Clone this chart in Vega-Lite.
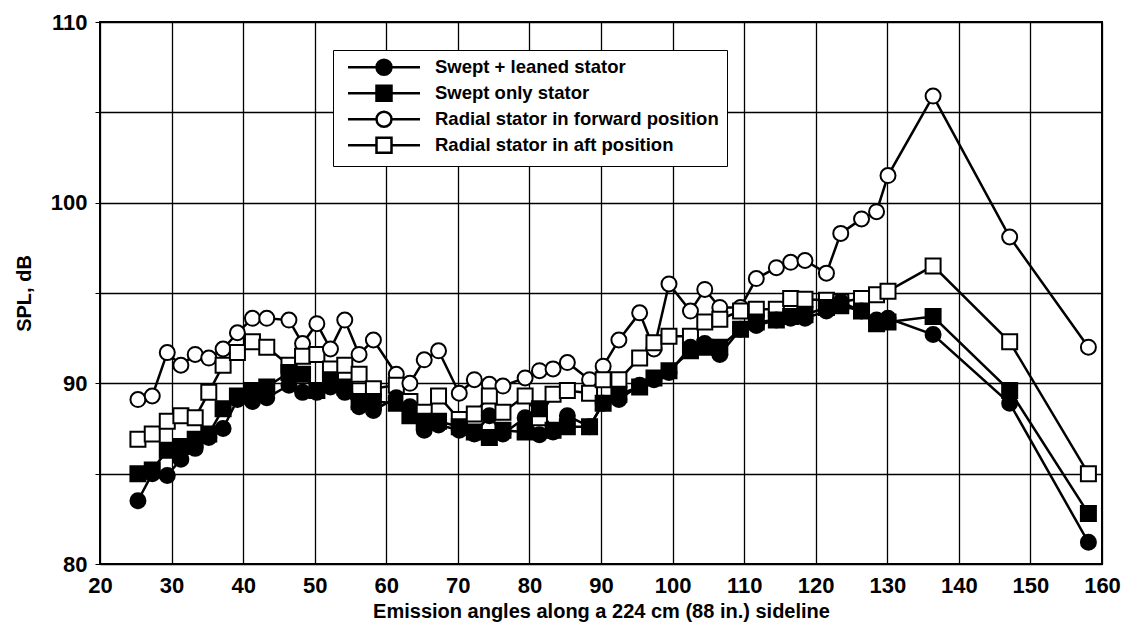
{
  "$schema": "https://vega.github.io/schema/vega-lite/v6.json",
  "width": 1002,
  "height": 542,
  "autosize": {"type": "none"},
  "padding": {"left": 100, "top": 22, "right": 30, "bottom": 66},
  "background": "white",
  "config": {
    "font": "Liberation Sans",
    "view": {"stroke": "black", "strokeWidth": 2},
    "axis": {
      "gridColor": "black", "gridOpacity": 1, "gridWidth": 1.3,
      "labelColor": "black", "labelFont": "Liberation Sans", "labelFontSize": 22, "labelFontWeight": "bold",
      "labelFlush": false, "labelOverlap": false,
      "titleColor": "black", "titleFont": "Liberation Sans", "titleFontSize": 20, "titleFontWeight": "bold",
      "domain": false, "tickColor": "black"
    }
  },
  "data": {"values": [
    {"angle": 25.3, "Swept + leaned stator": 83.5, "Swept only stator": 85.0, "Radial stator in forward position": 89.1, "Radial stator in aft position": 86.9},
    {"angle": 27.3, "Swept + leaned stator": 85.0, "Swept only stator": 85.2, "Radial stator in forward position": 89.3, "Radial stator in aft position": 87.2},
    {"angle": 29.4, "Swept + leaned stator": 84.9, "Swept only stator": 86.3, "Radial stator in forward position": 91.7, "Radial stator in aft position": 87.9},
    {"angle": 31.3, "Swept + leaned stator": 85.8, "Swept only stator": 86.5, "Radial stator in forward position": 91.0, "Radial stator in aft position": 88.2},
    {"angle": 33.3, "Swept + leaned stator": 86.4, "Swept only stator": 86.9, "Radial stator in forward position": 91.6, "Radial stator in aft position": 88.1},
    {"angle": 35.2, "Swept + leaned stator": 87.0, "Swept only stator": 87.2, "Radial stator in forward position": 91.4, "Radial stator in aft position": 89.5},
    {"angle": 37.2, "Swept + leaned stator": 87.5, "Swept only stator": 88.6, "Radial stator in forward position": 91.9, "Radial stator in aft position": 91.0},
    {"angle": 39.2, "Swept + leaned stator": 89.1, "Swept only stator": 89.3, "Radial stator in forward position": 92.8, "Radial stator in aft position": 91.7},
    {"angle": 41.3, "Swept + leaned stator": 89.0, "Swept only stator": 89.6, "Radial stator in forward position": 93.6, "Radial stator in aft position": 92.3},
    {"angle": 43.3, "Swept + leaned stator": 89.2, "Swept only stator": 89.8, "Radial stator in forward position": 93.6, "Radial stator in aft position": 92.0},
    {"angle": 46.4, "Swept + leaned stator": 89.9, "Swept only stator": 90.6, "Radial stator in forward position": 93.5, "Radial stator in aft position": 91.0},
    {"angle": 48.3, "Swept + leaned stator": 89.5, "Swept only stator": 90.5, "Radial stator in forward position": 92.2, "Radial stator in aft position": 91.5},
    {"angle": 50.3, "Swept + leaned stator": 89.5, "Swept only stator": 89.6, "Radial stator in forward position": 93.3, "Radial stator in aft position": 91.6},
    {"angle": 52.2, "Swept + leaned stator": 89.8, "Swept only stator": 90.2, "Radial stator in forward position": 91.9, "Radial stator in aft position": 90.8},
    {"angle": 54.2, "Swept + leaned stator": 89.5, "Swept only stator": 89.8, "Radial stator in forward position": 93.5, "Radial stator in aft position": 91.0},
    {"angle": 56.2, "Swept + leaned stator": 88.7, "Swept only stator": 89.0, "Radial stator in forward position": 91.6, "Radial stator in aft position": 90.5},
    {"angle": 58.2, "Swept + leaned stator": 88.5, "Swept only stator": 89.0, "Radial stator in forward position": 92.4, "Radial stator in aft position": 89.7},
    {"angle": 61.4, "Swept + leaned stator": 89.2, "Swept only stator": 88.9, "Radial stator in forward position": 90.5, "Radial stator in aft position": 89.9},
    {"angle": 63.3, "Swept + leaned stator": 88.7, "Swept only stator": 88.2, "Radial stator in forward position": 90.0, "Radial stator in aft position": 89.0},
    {"angle": 65.3, "Swept + leaned stator": 87.4, "Swept only stator": 87.9, "Radial stator in forward position": 91.3, "Radial stator in aft position": 88.4},
    {"angle": 67.3, "Swept + leaned stator": 87.7, "Swept only stator": 87.9, "Radial stator in forward position": 91.8, "Radial stator in aft position": 89.3},
    {"angle": 70.2, "Swept + leaned stator": 87.4, "Swept only stator": 87.6, "Radial stator in forward position": 89.45, "Radial stator in aft position": 88.0},
    {"angle": 72.3, "Swept + leaned stator": 87.2, "Swept only stator": 87.3, "Radial stator in forward position": 90.2, "Radial stator in aft position": 88.3},
    {"angle": 74.4, "Swept + leaned stator": 88.2, "Swept only stator": 87.0, "Radial stator in forward position": 89.95, "Radial stator in aft position": 89.3},
    {"angle": 76.3, "Swept + leaned stator": 87.2, "Swept only stator": 87.4, "Radial stator in forward position": 89.85, "Radial stator in aft position": 88.4},
    {"angle": 79.4, "Swept + leaned stator": 88.1, "Swept only stator": 87.3, "Radial stator in forward position": 90.3, "Radial stator in aft position": 89.3},
    {"angle": 81.4, "Swept + leaned stator": 87.15, "Swept only stator": 88.6, "Radial stator in forward position": 90.7, "Radial stator in aft position": 88.1},
    {"angle": 83.3, "Swept + leaned stator": 87.3, "Swept only stator": 87.4, "Radial stator in forward position": 90.8, "Radial stator in aft position": 89.4},
    {"angle": 85.3, "Swept + leaned stator": 88.2, "Swept only stator": 87.6, "Radial stator in forward position": 91.15, "Radial stator in aft position": 89.6},
    {"angle": 88.4, "Swept + leaned stator": 87.6, "Swept only stator": 87.6, "Radial stator in forward position": 90.2, "Radial stator in aft position": 89.45},
    {"angle": 90.3, "Swept + leaned stator": 88.9, "Swept only stator": 88.9, "Radial stator in forward position": 90.95, "Radial stator in aft position": 90.2},
    {"angle": 92.5, "Swept + leaned stator": 89.1, "Swept only stator": 89.4, "Radial stator in forward position": 92.4, "Radial stator in aft position": 90.2},
    {"angle": 95.4, "Swept + leaned stator": 89.9, "Swept only stator": 89.8, "Radial stator in forward position": 93.9, "Radial stator in aft position": 91.4},
    {"angle": 97.4, "Swept + leaned stator": 90.2, "Swept only stator": 90.3, "Radial stator in forward position": 91.9, "Radial stator in aft position": 92.25},
    {"angle": 99.5, "Swept + leaned stator": 90.6, "Swept only stator": 90.7, "Radial stator in forward position": 95.5, "Radial stator in aft position": 92.6},
    {"angle": 102.5, "Swept + leaned stator": 92.0, "Swept only stator": 91.8, "Radial stator in forward position": 94.0, "Radial stator in aft position": 92.6},
    {"angle": 104.5, "Swept + leaned stator": 92.2, "Swept only stator": 92.0, "Radial stator in forward position": 95.2, "Radial stator in aft position": 93.4},
    {"angle": 106.6, "Swept + leaned stator": 91.6, "Swept only stator": 92.0, "Radial stator in forward position": 94.2, "Radial stator in aft position": 93.55},
    {"angle": 109.5, "Swept + leaned stator": 93.0, "Swept only stator": 93.0, "Radial stator in forward position": 94.2, "Radial stator in aft position": 94.0},
    {"angle": 111.7, "Swept + leaned stator": 93.2, "Swept only stator": 93.4, "Radial stator in forward position": 95.8, "Radial stator in aft position": 94.1},
    {"angle": 114.5, "Swept + leaned stator": 93.5, "Swept only stator": 93.5, "Radial stator in forward position": 96.4, "Radial stator in aft position": 94.1},
    {"angle": 116.5, "Swept + leaned stator": 93.6, "Swept only stator": 93.7, "Radial stator in forward position": 96.7, "Radial stator in aft position": 94.7},
    {"angle": 118.5, "Swept + leaned stator": 93.6, "Swept only stator": 93.8, "Radial stator in forward position": 96.8, "Radial stator in aft position": 94.65},
    {"angle": 121.5, "Swept + leaned stator": 94.0, "Swept only stator": 94.2, "Radial stator in forward position": 96.1, "Radial stator in aft position": 94.6},
    {"angle": 123.5, "Swept + leaned stator": 94.5, "Swept only stator": 94.3, "Radial stator in forward position": 98.3, "Radial stator in aft position": 94.5},
    {"angle": 126.4, "Swept + leaned stator": 94.0, "Swept only stator": 94.0, "Radial stator in forward position": 99.1, "Radial stator in aft position": 94.7},
    {"angle": 128.5, "Swept + leaned stator": 93.5, "Swept only stator": 93.3, "Radial stator in forward position": 99.5, "Radial stator in aft position": 94.9},
    {"angle": 130.1, "Swept + leaned stator": 93.6, "Swept only stator": 93.4, "Radial stator in forward position": 101.5, "Radial stator in aft position": 95.1},
    {"angle": 136.4, "Swept + leaned stator": 92.7, "Swept only stator": 93.7, "Radial stator in forward position": 105.9, "Radial stator in aft position": 96.5},
    {"angle": 147.1, "Swept + leaned stator": 88.9, "Swept only stator": 89.6, "Radial stator in forward position": 98.1, "Radial stator in aft position": 92.3},
    {"angle": 158.1, "Swept + leaned stator": 81.2, "Swept only stator": 82.8, "Radial stator in forward position": 92.0, "Radial stator in aft position": 85.0}
  ]},
  "transform": [
    {"fold": ["Radial stator in forward position", "Radial stator in aft position", "Swept only stator", "Swept + leaned stator"], "as": ["series", "spl"]}
  ],
  "encoding": {
    "x": {
      "field": "angle", "type": "quantitative",
      "scale": {"domain": [20, 160], "nice": false, "zero": false},
      "axis": {
        "values": [20, 30, 40, 50, 60, 70, 80, 90, 100, 110, 120, 130, 140, 150, 160],
        "ticks": false, "labelPadding": 11,
        "title": "Emission angles along a 224 cm (88 in.) sideline", "titlePadding": 5
      }
    },
    "y": {
      "field": "spl", "type": "quantitative",
      "scale": {"domain": [80, 110], "nice": false, "zero": false},
      "axis": {
        "values": [80, 85, 90, 95, 100, 105, 110],
        "labelExpr": "datum.value % 10 === 0 ? datum.label : ''",
        "tickSize": 5, "labelPadding": 8,
        "title": "SPL, dB", "titlePadding": 16
      }
    }
  },
  "layer": [
    {
      "mark": {"type": "line", "strokeWidth": 2.5},
      "encoding": {
        "detail": {"field": "series", "type": "nominal"},
        "color": {"value": "black"}
      }
    },
    {
      "mark": {"type": "point", "size": 225, "stroke": "black", "strokeWidth": 2, "opacity": 1},
      "encoding": {
        "shape": {
          "field": "series", "type": "nominal",
          "scale": {
            "domain": ["Swept + leaned stator", "Swept only stator", "Radial stator in forward position", "Radial stator in aft position"],
            "range": ["circle", "square", "circle", "square"]
          },
          "legend": null
        },
        "fill": {
          "field": "series", "type": "nominal",
          "scale": {
            "domain": ["Swept + leaned stator", "Swept only stator", "Radial stator in forward position", "Radial stator in aft position"],
            "range": ["black", "black", "white", "white"]
          },
          "legend": null
        }
      }
    },
    {
      "transform": [{"filter": "false"}],
      "mark": {"type": "point", "size": 225, "stroke": "black", "strokeWidth": 2.5, "opacity": 1},
      "encoding": {
        "stroke": {"value": "black"},
        "shape": {
          "field": "series", "type": "nominal",
          "scale": {
            "domain": ["Swept + leaned stator", "Swept only stator", "Radial stator in forward position", "Radial stator in aft position"],
            "range": [
              "M-4.8,0H-1M1,0H4.8M1,0C1,0.552,0.552,1,0,1C-0.552,1,-1,0.552,-1,0C-1,-0.552,-0.552,-1,0,-1C0.552,-1,1,-0.552,1,0Z",
              "M-4.8,0H-1M1,0H4.8M-1,-1H1V1H-1Z",
              "M-4.8,0H-1M1,0H4.8M1,0C1,0.552,0.552,1,0,1C-0.552,1,-1,0.552,-1,0C-1,-0.552,-0.552,-1,0,-1C0.552,-1,1,-0.552,1,0Z",
              "M-4.8,0H-1M1,0H4.8M-1,-1H1V1H-1Z"
            ]
          },
          "legend": {
            "orient": "none", "legendX": 233, "legendY": 28, "title": null,
            "symbolSize": 225, "symbolStrokeWidth": 2.5, "symbolOpacity": 1,
            "symbolOffset": 33.75,
            "labelFont": "Liberation Sans", "labelFontSize": 18.5, "labelFontWeight": "bold", "labelColor": "black",
            "labelOffset": 41.75, "labelLimit": 0,
            "strokeColor": "black", "fillColor": "white", "padding": 8, "rowPadding": 0
          }
        },
        "fill": {
          "field": "series", "type": "nominal",
          "scale": {
            "domain": ["Swept + leaned stator", "Swept only stator", "Radial stator in forward position", "Radial stator in aft position"],
            "range": ["black", "black", "white", "white"]
          },
          "legend": {
            "orient": "none", "legendX": 233, "legendY": 28, "title": null,
            "symbolSize": 225, "symbolStrokeWidth": 2.5, "symbolOpacity": 1,
            "symbolOffset": 33.75,
            "labelFont": "Liberation Sans", "labelFontSize": 18.5, "labelFontWeight": "bold", "labelColor": "black",
            "labelOffset": 41.75, "labelLimit": 0,
            "strokeColor": "black", "fillColor": "white", "padding": 8, "rowPadding": 0
          }
        }
      }
    }
  ],
  "resolve": {
    "scale": {"shape": "independent", "fill": "independent"},
    "legend": {"shape": "independent", "fill": "independent"}
  }
}
